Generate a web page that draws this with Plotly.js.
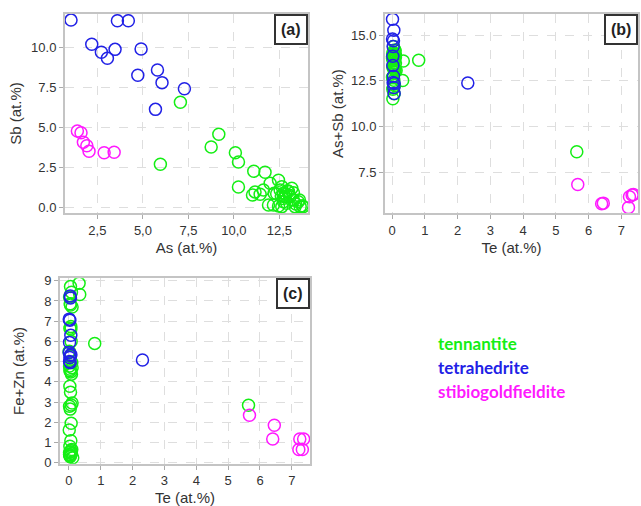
<!DOCTYPE html>
<html>
<head>
<meta charset="utf-8">
<script src="https://cdn.plot.ly/plotly-3.0.1.min.js"></script>
<style>html,body{margin:0;padding:0;background:#fff;}#chart{width:641px;height:506px;}</style>
</head>
<body>
<div id="chart"></div>
<script>
// ---------- data ----------
const seriesNames = ["tennantite", "tetrahedrite", "stibiogoldfieldite"];
const seriesColors = ["#14ee14", "#2121e6", "#ff19ff"];

// tennantite
const tenAs = [7.06, 8.75, 9.17, 5.96, 10.08, 10.25, 10.25, 11.09, 11.71, 11.02, 11.16, 11.44, 11.62, 11.99, 12.45, 11.90, 12.17, 12.63, 12.21, 12.54, 12.72, 12.81, 13.00, 13.18, 13.09, 13.27, 13.54, 13.64, 13.82, 12.45, 12.63, 13.36, 12.72, 12.90, 13.27, 13.60, 13.75, 13.40, 12.94, 12.70, 12.35, 12.85, 13.05, 12.60];
const tenSb = [6.56, 3.77, 4.56, 2.69, 3.41, 2.83, 1.27, 2.25, 2.19, 0.77, 0.96, 0.81, 1.08, 1.50, 1.69, 0.14, 0.14, 1.29, 0.87, 1.08, 0.87, 0.66, 0.98, 1.19, 0.66, 0.46, 0.35, 0.04, 0.04, 0.08, 0.04, 0.04, 0.35, 0.25, 0.91, 0.46, 0.10, 0.20, 1.04, 0.55, 0.85, 0.80, 0.75, 0.70];
const tenAsSb = [13.62, 12.52, 13.58, 8.63, 13.49, 13.08, 11.52, 13.34, 13.90, 11.79, 12.12, 12.25, 12.70, 13.49, 14.14, 12.04, 12.31, 13.92, 13.08, 13.62, 13.59, 13.47, 13.98, 14.37, 13.75, 13.73, 13.89, 13.68, 13.86, 12.53, 12.67, 13.40, 13.07, 13.15, 14.18, 14.06, 13.85, 13.60, 13.98, 13.25, 13.20, 13.65, 13.80, 13.30];
const tenTe = [0.81, 0.32, 0.34, 5.64, 0.05, 0.08, 0.02, 0.04, 0.10, 0.06, 0.03, 0.07, 0.01, 0.05, 0.09, 0.02, 0.04, 0.06, 0.08, 0.03, 0.05, 0.10, 0.02, 0.04, 0.07, 0.01, 0.06, 0.03, 0.09, 0.05, 0.02, 0.04, 0.12, 0.06, 0.08, 0.03, 0.01, 0.05, 0.07, 0.02, 0.04, 0.06, 0.10, 0.03];
const tenFeZn = [5.90, 8.87, 8.32, 2.84, 8.71, 8.43, 8.19, 7.86, 7.70, 6.73, 6.65, 6.00, 5.51, 5.27, 4.95, 4.78, 4.62, 4.49, 4.38, 3.78, 3.49, 2.95, 2.79, 2.65, 1.95, 1.62, 1.09, 0.81, 0.65, 0.54, 0.41, 0.33, 0.24, 0.60, 0.45, 4.55, 5.45, 7.80, 2.85, 0.50, 0.30, 6.60, 4.70, 0.38];

// tetrahedrite
const tetAs = [1.05, 3.60, 4.20, 2.19, 2.72, 3.05, 3.47, 4.90, 4.72, 5.80, 6.05, 7.28, 5.69];
const tetSb = [11.70, 11.66, 11.66, 10.19, 9.69, 9.31, 9.87, 9.89, 8.25, 8.58, 7.79, 7.41, 6.12];
const tetAsSb = [12.75, 15.26, 15.86, 12.38, 12.41, 12.36, 13.34, 14.79, 12.14, 14.38, 13.84, 14.69, 11.81];
const tetTe = [0.04, 0.05, 0.01, 2.31, 0.03, 0.06, 0.02, 0.01, 0.05, 0.03, 0.02, 0.04, 0.06];
const tetFeZn = [8.25, 8.15, 7.10, 5.08, 7.05, 6.30, 5.95, 5.45, 5.30, 5.20, 5.00, 4.95, 5.35];

// stibiogoldfieldite
const stiAs = [1.40, 1.60, 1.73, 1.92, 2.04, 2.87, 3.42];
const stiSb = [4.77, 4.66, 4.06, 3.85, 3.50, 3.41, 3.44];
const stiAsSb = [6.17, 6.26, 5.79, 5.82, 5.58, 6.29, 6.84];
const stiTe = [7.25, 7.33, 6.40, 6.45, 7.22, 7.37, 5.67];
const stiFeZn = [1.17, 0.65, 1.17, 1.85, 0.65, 1.17, 2.35];

// tick labels
const aXTickVals = [2.5, 5, 7.5, 10, 12.5];
const aXTickText = ["2,5", "5,0", "7,5", "10,0", "12,5"];
const aYTickVals = [0, 2.5, 5, 7.5, 10];
const bYTickVals = [7.5, 10, 12.5, 15];
const panelLabels = ["(a)", "(b)", "(c)"];
const axisTitles = {ax: "As (at.%)", ay: "Sb (at.%)", bx: "Te (at.%)", by: "As+Sb (at.%)", cx: "Te (at.%)", cy: "Fe+Zn (at.%)"};

// ---------- traces ----------
function mk(x, y, i, xa, ya) {
  return {
    x: x, y: y, type: "scatter", mode: "markers", name: seriesNames[i],
    xaxis: xa, yaxis: ya, showlegend: false, hoverinfo: "skip",
    marker: {symbol: "circle-open", size: 12, color: seriesColors[i], line: {width: 1.5, color: seriesColors[i]}}
  };
}
const traces = [
  mk(tenAs, tenSb, 0, "x", "y"), mk(stiAs, stiSb, 2, "x", "y"), mk(tetAs, tetSb, 1, "x", "y"),
  mk(tenTe, tenAsSb, 0, "x2", "y2"), mk(stiTe, stiAsSb, 2, "x2", "y2"), mk(tetTe, tetAsSb, 1, "x2", "y2"),
  mk(tenTe, tenFeZn, 0, "x3", "y3"), mk(stiTe, stiFeZn, 2, "x3", "y3"), mk(tetTe, tetFeZn, 1, "x3", "y3")
];

const tickFont = {family: "Liberation Sans, Arial, sans-serif", size: 13, color: "#333"};
const titleFont = {family: "Liberation Sans, Arial, sans-serif", size: 15, color: "#333"};
function ax(extra) {
  return Object.assign({
    showline: true, mirror: true, linecolor: "#c4c4c4", linewidth: 2,
    showgrid: true, gridcolor: "#dedede", griddash: "dash", gridwidth: 1,
    zeroline: false, ticks: "outside", ticklen: 4, tickcolor: "#aaa",
    tickfont: tickFont
  }, extra);
}

const layout = {
  width: 641, height: 506,
  margin: {l: 0, r: 0, t: 0, b: 0},
  paper_bgcolor: "#fff", plot_bgcolor: "#fff",
  showlegend: false,
  xaxis: ax({domain: [0.1014, 0.4805], range: [0.72, 14.07], anchor: "y", tickvals: aXTickVals, ticktext: aXTickText,
    title: {text: axisTitles.ax, font: titleFont, standoff: 6}}),
  yaxis: ax({domain: [0.579, 0.9723], range: [-0.36, 12.08], anchor: "x", tickvals: aYTickVals, tickformat: ".1f",
    title: {text: axisTitles.ay, font: titleFont, standoff: 6}}),
  xaxis2: ax({domain: [0.6006, 0.9953], range: [-0.22, 7.51], anchor: "y2", dtick: 1,
    title: {text: axisTitles.bx, font: titleFont, standoff: 6}}),
  yaxis2: ax({domain: [0.579, 0.9723], range: [5.28, 16.15], anchor: "x2", tickvals: bYTickVals, tickformat: ".1f",
    title: {text: axisTitles.by, font: titleFont, standoff: 4}}),
  xaxis3: ax({domain: [0.0936, 0.4836], range: [-0.28, 7.57], anchor: "y3", dtick: 1,
    title: {text: axisTitles.cx, font: titleFont, standoff: 5}}),
  yaxis3: ax({domain: [0.0836, 0.45], range: [-0.05, 9.12], anchor: "x3", dtick: 1,
    title: {text: axisTitles.cy, font: titleFont, standoff: 16}}),
  annotations: []
};

const refs = [["x domain", "y domain"], ["x2 domain", "y2 domain"], ["x3 domain", "y3 domain"]];
panelLabels.forEach(function (t, i) {
  layout.annotations.push({
    text: "<b>" + t + "</b>", xref: refs[i][0], yref: refs[i][1], x: 1, y: 1,
    xanchor: "right", yanchor: "top", showarrow: false,
    font: {family: "Liberation Sans, Arial, sans-serif", size: 16, color: "#222"},
    bgcolor: "#fff", bordercolor: "#333", borderwidth: 2, borderpad: 5
  });
});
const legendY = [0.3202, 0.2733, 0.2259];
seriesNames.forEach(function (n, i) {
  layout.annotations.push({
    text: "<b>" + n + "</b>", xref: "paper", yref: "paper", x: 436 / 641, y: legendY[i],
    xanchor: "left", yanchor: "middle", showarrow: false,
    font: {family: "Lato, Open Sans, sans-serif", size: 17, color: seriesColors[i]}
  });
});

Plotly.newPlot("chart", traces, layout, {staticPlot: true, displayModeBar: false});
</script>
</body>
</html>
